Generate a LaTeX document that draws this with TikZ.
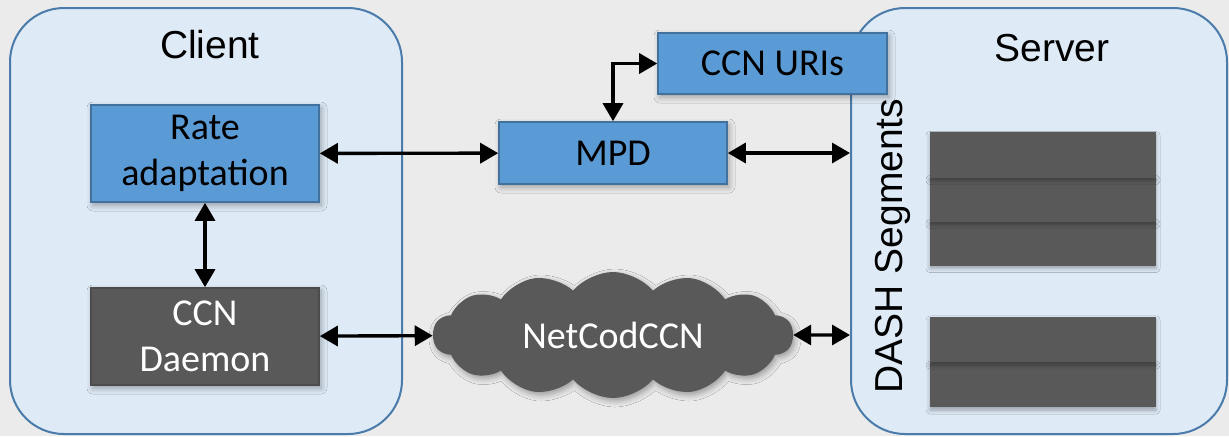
\documentclass[tikz,border=0pt]{standalone}
\usepackage{fontspec}
\setmainfont{Carlito}
\newfontfamily\headfont{Liberation Sans}
\usepackage{tikz}
\usetikzlibrary{shadows.blur}
\usetikzlibrary{shapes.symbols}
\usetikzlibrary{arrows.meta}
\definecolor{bggray}{HTML}{EBEBEB}
\definecolor{boxfill}{HTML}{DEEAF6}
\definecolor{boxline}{HTML}{4A7BAA}
\definecolor{blockblue}{HTML}{5B9BD5}
\definecolor{blockline}{HTML}{41719C}
\definecolor{segray}{HTML}{595959}
\tikzstyle{container}=[draw=boxline,line width=1pt,fill=boxfill,rounded corners=27pt,inner sep=0]
\tikzstyle{heading}=[font=\headfont\fontsize{19.5}{23}\selectfont]
\tikzstyle{block}=[draw=blockline,line width=0.8pt,fill=blockblue,align=center,inner sep=0,
  font=\fontsize{19}{23}\selectfont,
  blur shadow={shadow xshift=1pt,shadow yshift=-1.5pt,shadow blur radius=3pt,shadow opacity=35}]
\tikzstyle{darkblock}=[block,draw=segray!85!black,fill=segray,text=white]
\tikzstyle{segbar}=[fill=segray,minimum width=113pt,minimum height=22.6pt,inner sep=0,
  blur shadow={shadow xshift=0pt,shadow yshift=-1.5pt,shadow blur radius=2pt,shadow opacity=30}]
\tikzstyle{link}=[line width=1.7pt,black,{Triangle[length=9pt,width=10pt]}-{Triangle[length=9pt,width=10pt]}]

\begin{document}
\begin{tikzpicture}[x=0.5pt,y=-0.5pt]
	\fill[bggray] (0,0) rectangle (1229,436);
	\useasboundingbox (0,0) rectangle (1229,436);

	% client and server
	\node[container,minimum width=196pt,minimum height=213pt] (client) at (206,221) {};
	\node[container,minimum width=188pt,minimum height=213pt] (server) at (1039,221) {};
	\node[heading] (clientlabel) at (210,45) {Client};
	\node[heading] (serverlabel) at (1052,48) {Server};
	\node[heading,rotate=90] (dash) at (893,246) {DASH Segments};

	% blocks
	\node[block,minimum width=114pt,minimum height=48.5pt] (rate) at (205,153.5) {Rate\\adaptation};
	\node[darkblock,minimum width=114pt,minimum height=48.5pt] (daemon) at (205,336.5) {CCN\\Daemon};
	\node[block,minimum width=114pt,minimum height=31pt] (mpd) at (613,153) {MPD};
	\node[block,minimum width=114.5pt,minimum height=30.5pt] (uris) at (772.5,63.5) {CCN URIs};
	\node[cloud,cloud puffs=14,cloud puff arc=100,aspect=3,fill=segray,text=white,
	      minimum width=180pt,minimum height=63pt,inner sep=0,font=\fontsize{19}{23}\selectfont,
	      blur shadow={shadow xshift=1pt,shadow yshift=-1.5pt,shadow blur radius=3pt,shadow opacity=35}]
	      (cloud) at (613,335) {NetCodCCN};

	% segments
	\foreach \y [count=\i] in {243,199,155}
		\node[segbar] (segA\i) at (1043,\y) {};
	\foreach \y [count=\i] in {384.5,339.5}
		\node[segbar] (segB\i) at (1043,\y) {};

	% links
	\draw[link] (rate) -- (mpd);
	\draw[link] (mpd) -- (mpd -| server.west);
	\draw[link] (mpd) |- (uris);
	\draw[link] (rate) -- (daemon);
	\draw[link] (daemon) -- (cloud);
	\draw[link] (cloud) -- (cloud -| server.west);
\end{tikzpicture}
\end{document}
